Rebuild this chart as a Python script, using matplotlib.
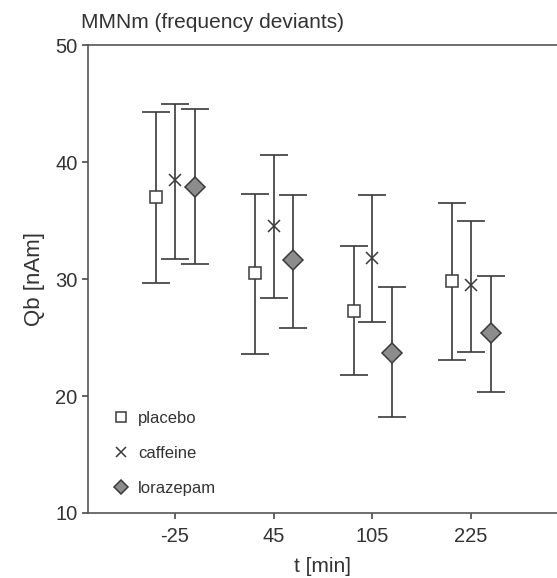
import matplotlib
matplotlib.use("Agg")
import matplotlib.pyplot as plt
import numpy as np

plt.rcParams['font.family'] = ['Liberation Sans', 'DejaVu Sans']

times = ["-25", "45", "105", "225"]

placebo_mean = [37.0, 30.5, 27.3, 29.8]
placebo_hi = [44.3, 37.3, 32.8, 36.5]
placebo_lo = [29.7, 23.6, 21.8, 23.1]

caffeine_mean = [38.5, 34.5, 31.8, 29.5]
caffeine_hi = [45.0, 40.6, 37.2, 35.0]
caffeine_lo = [31.7, 28.4, 26.3, 23.8]

loraz_mean = [37.9, 31.6, 23.7, 25.4]
loraz_hi = [44.5, 37.2, 29.3, 30.3]
loraz_lo = [31.3, 25.8, 18.2, 20.3]

ink = "#3a3a3a"
txt = "#333333"

fig = plt.figure(figsize=(5.57, 5.78), dpi=100)
ax = fig.add_axes([0.158, 0.1125, 0.842, 0.8095])

x = np.arange(len(times))
series = [
    (placebo_mean, placebo_lo, placebo_hi, -0.19, dict(marker="s", ms=9, mfc="white", mec=ink, mew=1.1), "placebo"),
    (caffeine_mean, caffeine_lo, caffeine_hi, 0.0, dict(marker="x", ms=9, mec=ink, mew=1.1), "caffeine"),
    (loraz_mean, loraz_lo, loraz_hi, 0.20, dict(marker="D", ms=10, mfc="#8c8c8c", mec=ink, mew=1.1), "lorazepam"),
]

for mean, lo, hi, off, mk, lab in series:
    mean = np.array(mean)
    err = [mean - np.array(lo), np.array(hi) - mean]
    ax.errorbar(x + off, mean, yerr=err, fmt="none", ecolor=ink, elinewidth=1.2,
                capsize=10, capthick=1.2, zorder=1)
    ax.plot(x + off, mean, ls="none", color=ink, label=lab, zorder=3, **mk)

ax.set_xlim(-0.88, 3.87)
ax.set_ylim(10, 50)
ax.set_yticks([10, 20, 30, 40, 50])
ax.set_xticks(x)
ax.set_xticklabels(times)
ax.tick_params(axis="both", labelsize=14.5, colors=ink, labelcolor=txt, length=4, width=1.1)
ax.tick_params(axis="x", pad=6)

for s in ["left", "top", "bottom"]:
    ax.spines[s].set_color("#555555")
    ax.spines[s].set_linewidth(1.2)
ax.spines["right"].set_visible(False)

ax.set_xlabel("t [min]", fontsize=15, color=txt, labelpad=8)
ax.set_ylabel("Qb [nAm]", fontsize=16, color=txt, labelpad=7)
ax.set_title("MMNm (frequency deviants)", fontsize=15, color=txt, loc="left", x=-0.015, pad=12)

leg = ax.legend(loc="lower left", bbox_to_anchor=(0.025, 0.005), frameon=False, fontsize=12,
                handlelength=0.8, handletextpad=0.6, labelspacing=1.2, markerscale=0.75)
for t in leg.get_texts():
    t.set_color(txt)

fig.savefig("out.png", dpi=100)
